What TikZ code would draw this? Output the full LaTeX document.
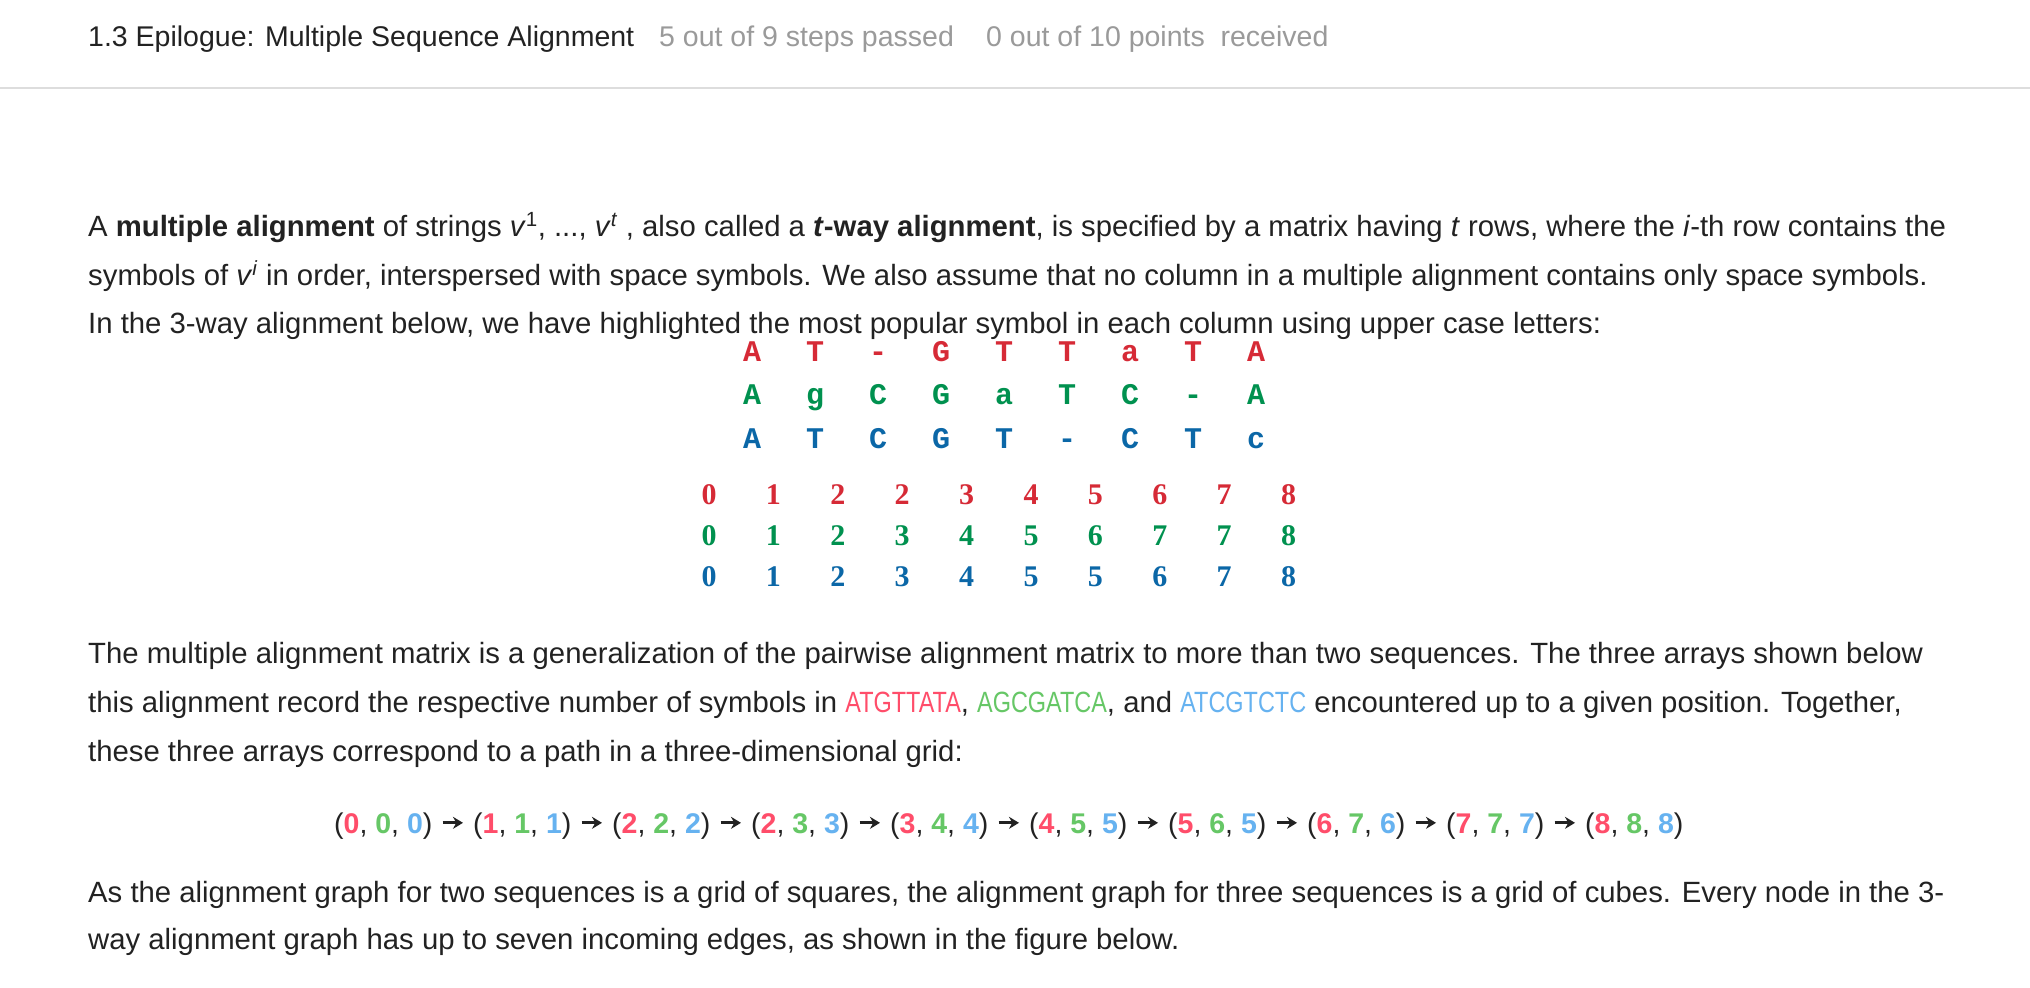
\documentclass[tikz,border=0pt]{standalone}
\usepackage{fontspec}
\setmainfont{Liberation Sans}
\newfontfamily\seqfont{Liberation Mono}
\newfontfamily\cntfont{Liberation Serif}
\newfontfamily\capfont[FakeStretch=0.8]{Liberation Sans}
\usetikzlibrary{positioning,arrows.meta}
\definecolor{ink}{HTML}{222222}
\definecolor{muted}{HTML}{9A9A9A}
\definecolor{rulegray}{HTML}{DDDDDD}
\definecolor{seqred}{HTML}{D62A36}
\definecolor{seqgreen}{HTML}{00914F}
\definecolor{seqblue}{HTML}{0B67A7}
\definecolor{lred}{HTML}{FF4D6A}
\definecolor{lgreen}{HTML}{66C766}
\definecolor{lblue}{HTML}{66B2F0}

\begin{document}
\begin{tikzpicture}[x=1pt, y=-1pt, font=\fontsize{29.3}{34}\selectfont,
      ln/.style={anchor=base west, inner sep=0pt, text=ink},
      hd/.style={anchor=base west, inner sep=0pt, text=muted, font=\fontsize{28.5}{34}\selectfont},
      al/.style={font=\seqfont\bfseries\fontsize{30}{30}\selectfont, anchor=base, inner sep=0pt},
      nm/.style={font=\cntfont\bfseries\fontsize{30}{30}\selectfont, anchor=base, inner sep=0pt},
      tp/.style={font=\fontsize{28.5}{32}\selectfont, anchor=base west, inner sep=0pt, text=ink},
      ar/.style={-{Stealth[length=10pt,width=12pt]}, line width=3pt, ink,
                 shorten <=10pt, shorten >=10pt}]

    \path[fill=white, use as bounding box] (0,0) rectangle (2030,988);

    % header
    \node[ln, font=\fontsize{28.5}{34}\selectfont] (title) at (88,46) {1.3 Epilogue: Multiple Sequence Alignment};
    \node[hd] (steps) at (659,46) {5 out of 9 steps passed};
    \node[hd] (points) at (986,46) {0 out of 10 points\ \ received};
    \draw[rulegray, line width=2pt] (0,88) -- (2030,88);

    % first paragraph
    \node[ln] (p1a) at (88,236) {A \textbf{multiple alignment} of strings \textit{v}\textsuperscript{1}, ..., \textit{v}\textsuperscript{\textit{t}} , also called a \textbf{\textit{t}-way alignment}, is specified by a matrix having \textit{t} rows, where the \textit{i}-th row contains the};
    \node[ln] (p1b) at (88,285) {symbols of \textit{v}\textsuperscript{\textit{i}} in order, interspersed with space symbols. We also assume that no column in a multiple alignment contains only space symbols.};
    \node[ln] (p1c) at (88,333) {In the 3-way alignment below, we have highlighted the most popular symbol in each column using upper case letters:};

    % alignment
    \foreach \c [count=\i] in {A,T,-,G,T,T,a,T,A}
      \node[al, text=seqred] (r\i) at ({752+63*(\i-1)},361) {\c};
    \foreach \c [count=\i] in {A,g,C,G,a,T,C,-,A}
      \node[al, text=seqgreen] (g\i) at ({752+63*(\i-1)},404) {\c};
    \foreach \c [count=\i] in {A,T,C,G,T,-,C,T,c}
      \node[al, text=seqblue] (b\i) at ({752+63*(\i-1)},448) {\c};

    % symbol counts
    \foreach \n [count=\i] in {0,1,2,2,3,4,5,6,7,8}
      \node[nm, text=seqred] (cr\i) at ({709+64.4*(\i-1)},504) {\n};
    \foreach \n [count=\i] in {0,1,2,3,4,5,6,7,7,8}
      \node[nm, text=seqgreen] (cg\i) at ({709+64.4*(\i-1)},545) {\n};
    \foreach \n [count=\i] in {0,1,2,3,4,5,5,6,7,8}
      \node[nm, text=seqblue] (cb\i) at ({709+64.4*(\i-1)},586) {\n};

    % second paragraph
    \node[ln] (p2a) at (88,663) {The multiple alignment matrix is a generalization of the pairwise alignment matrix to more than two sequences. The three arrays shown below};
    \node[ln] (p2b) at (88,712) {this alignment record the respective number of symbols in {\capfont\color{lred}ATGTTATA}, {\capfont\color{lgreen}AGCGATCA}, and {\capfont\color{lblue}ATCGTCTC} encountered up to a given position. Together,};
    \node[ln] (p2c) at (88,761) {these three arrays correspond to a path in a three-dimensional grid:};

    % path in the grid
    \foreach \a/\b/\c [count=\i from 0] in {0/0/0,1/1/1,2/2/2,2/3/3,3/4/4,4/5/5,5/6/5,6/7/6,7/7/7,8/8/8}
      \node[tp] (t\i) at ({334+139*\i},833)
        {(\textbf{\textcolor{lred}{\a}}, \textbf{\textcolor{lgreen}{\b}}, \textbf{\textcolor{lblue}{\c}})};
    \foreach \i [evaluate=\i as \j using int(\i+1)] in {0,...,8}
      \draw[ar] ([yshift=2.8pt]t\i.east) -- ([yshift=2.8pt]t\j.west);

    % last paragraph
    \node[ln] (p3a) at (88,902) {As the alignment graph for two sequences is a grid of squares, the alignment graph for three sequences is a grid of cubes. Every node in the 3-};
    \node[ln] (p3b) at (88,949) {way alignment graph has up to seven incoming edges, as shown in the figure below.};
  \end{tikzpicture}
\end{document}
